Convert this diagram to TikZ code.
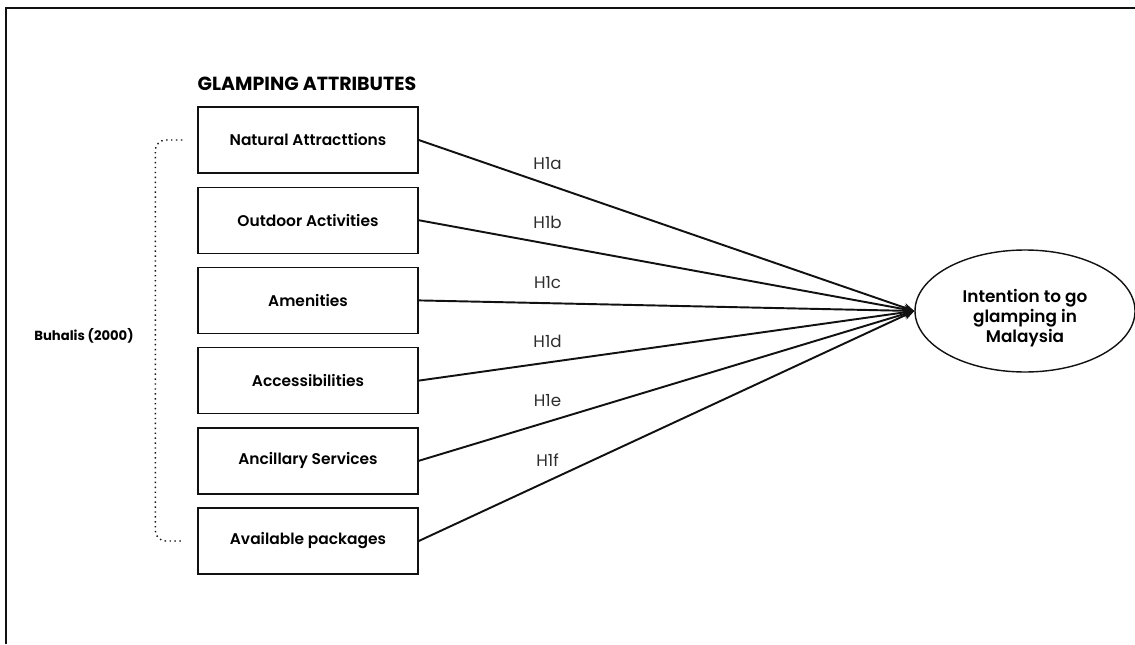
\documentclass[tikz,border=0pt]{standalone}
\usepackage{fontspec}
\setmainfont{Poppins}
\IfFontExistsTF{Poppins SemiBold}
  {\newfontfamily\medfont{Poppins SemiBold}}
  {\newcommand\medfont{\bfseries}}
\usepackage{tikz}
\usetikzlibrary{arrows.meta,positioning,shapes.geometric}
\definecolor{ink}{HTML}{111111}
\definecolor{labgray}{HTML}{2E2E2E}
\tikzset{
  attrbox/.style={
    rectangle, draw=ink, thick,
    minimum width=4.4cm, minimum height=1.32cm,
    font=\medfont\fontsize{8.8}{11}\selectfont, align=center,
    inner sep=0pt
  },
  intentell/.style={
    ellipse, draw=ink, thick,
    minimum width=4.4cm, minimum height=2.44cm,
    inner sep=0pt
  },
  intenttext/.style={
    font=\medfont\fontsize{9.6}{11.4}\selectfont, align=center,
    inner sep=0pt, yshift=-0.14cm
  },
  hyparrow/.style={
    -{Stealth[length=6pt,width=5pt]}, line width=1.1pt, color=ink
  },
  hyplabel/.style={font=\fontsize{9.5}{11}\selectfont, text=labgray, inner sep=0pt},
  srcbracket/.style={dotted, line width=0.8pt, rounded corners=6pt, color=ink},
}

\begin{document}
\begin{tikzpicture}[node distance=0.256cm]
  \useasboundingbox (0,0) rectangle (22.7,-12.88);
  % frame
  \draw[line width=1pt, color=ink] (0.12,-12.88) |- (22.7,-0.16);

  \node[font=\fontsize{10.8}{12}\selectfont\bfseries, inner sep=0pt] (title) at (6.14,-1.68) {GLAMPING ATTRIBUTES};

  \node[attrbox] (nat) at (6.16,-2.80) {Natural Attracttions};
  \node[attrbox, below=of nat] (out) {Outdoor Activities};
  \node[attrbox, below=of out] (ame) {Amenities};
  \node[attrbox, below=of ame] (acc) {Accessibilities};
  \node[attrbox, below=of acc] (anc) {Ancillary Services};
  \node[attrbox, below=of anc] (pkg) {Available packages};

  \node[intentell, label={[intenttext]center:Intention to go\\glamping in\\Malaysia}] (intent) at (20.5,-6.22) {};

  % source bracket
  \draw[srcbracket] ([xshift=-0.3cm]nat.west) -- ([xshift=-0.84cm]nat.west)
    -- ([xshift=-0.84cm]pkg.west) -- ([xshift=-0.3cm]pkg.west);
  \node[font=\fontsize{7.5}{9}\selectfont\bfseries, inner sep=0pt] (src) at (1.68,-6.72) {Buhalis (2000)};

  % hypotheses
  \foreach \b/\h in {nat/H1a, out/H1b, ame/H1c, acc/H1d, anc/H1e, pkg/H1f}
    \draw[hyparrow] (\b.east) -- node[hyplabel, pos=0.26, yshift=0.42cm] {\h} (intent.west);
\end{tikzpicture}
\end{document}
